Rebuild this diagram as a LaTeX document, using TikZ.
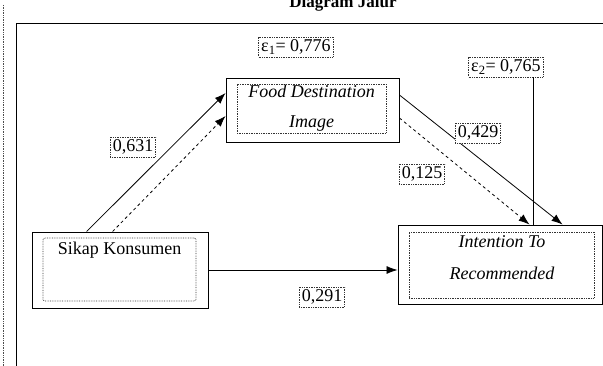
\documentclass[tikz,border=0pt]{standalone}
\usepackage{fontspec}
\setmainfont{Liberation Serif}
\usepackage{tikz}
\usetikzlibrary{arrows,arrows.meta,calc,positioning}

\begin{document}
\begin{tikzpicture}[x=1pt, y=-1pt]
	\tikzstyle{every node} = [font = \fontsize{18}{20}\selectfont]
	\tikzstyle{outerbox} = [draw = black, line width = 0.9pt]
	\tikzstyle{innerbox} = [draw = black!80, densely dotted, line width = 0.7pt]
	\tikzstyle{coef} = [draw = black!80, densely dotted, line width = 0.7pt, fill = white, inner sep = 2.5pt]
	\tikzstyle{path} = [draw, line width = 0.8pt, -{Latex[length=11pt, width=8pt]}]
\useasboundingbox (0,0) rectangle (603,366);
\clip (0,0) rectangle (603,366);
% page frame
\path[draw, densely dotted, black!70, line width = 0.7pt] (3,5) -- (3,366);
\path[draw, line width = 0.9pt] (16,366) -- (16,23) -- (606,23);
\node[font = \bfseries\fontsize{17}{20}\selectfont, anchor = base] (0) at (343,8) {Diagram Jalur};
% variables
\node[outerbox, minimum width = 176, minimum height = 76] (1) at (120,270) {};
\node[innerbox, rounded corners = 2, minimum width = 153, minimum height = 63] (1a) at (119.5,269.5) {};
\node[anchor = north, inner sep = 4pt] (1t) at (1a.north) {Sikap Konsumen};
\node[outerbox, minimum width = 173, minimum height = 64] (2) at (312.5,110) {};
\node[innerbox, minimum width = 149, minimum height = 49] (2a) at (311.5,108.5) {};
\node[font = \itshape\fontsize{18}{30}\selectfont, align = center] (2t) at (311.5,108) {Food Destination\\Image};
\node[outerbox, minimum width = 204, minimum height = 79] (3) at (500,264.5) {};
\node[innerbox, minimum width = 185, minimum height = 66] (3a) at (501.5,265) {};
\node[font = \itshape\fontsize{18}{32}\selectfont, align = center] (3t) at (502,258) {Intention To\\Recommended};
% paths
	\path[path] ([xshift = 55]1.north west) -- ([yshift = 17]2.west);
	\path[path, dashed] ([xshift = 81]1.north west) -- ([yshift = -6]2.west);
	\path[path] ([yshift = 15]2.east) -- ([xshift = 165]3.north west);
	\path[path, dashed] ([yshift = -8]2.east) -- ([xshift = 132]3.north west);
	\path[path] (1.east) -- (1.east -| 3.west);
% coefficients
\node[coef] (4) at (296,47) {ε\textsubscript{1}= 0,776};
\node[coef] (5) at (506,67) {ε\textsubscript{2}= 0,765};
	\path[draw, line width = 0.8pt] ([xshift = 27]5.south) -- ([xshift = 27]5.south |- 3.north);
\node[coef] (6) at (133,147) {0,631};
\node[coef] (7) at (478,133) {0,429};
\node[coef] (8) at (422,174) {0,125};
\node[coef] (9) at (322,297) {0,291};
\end{tikzpicture}
\end{document}
